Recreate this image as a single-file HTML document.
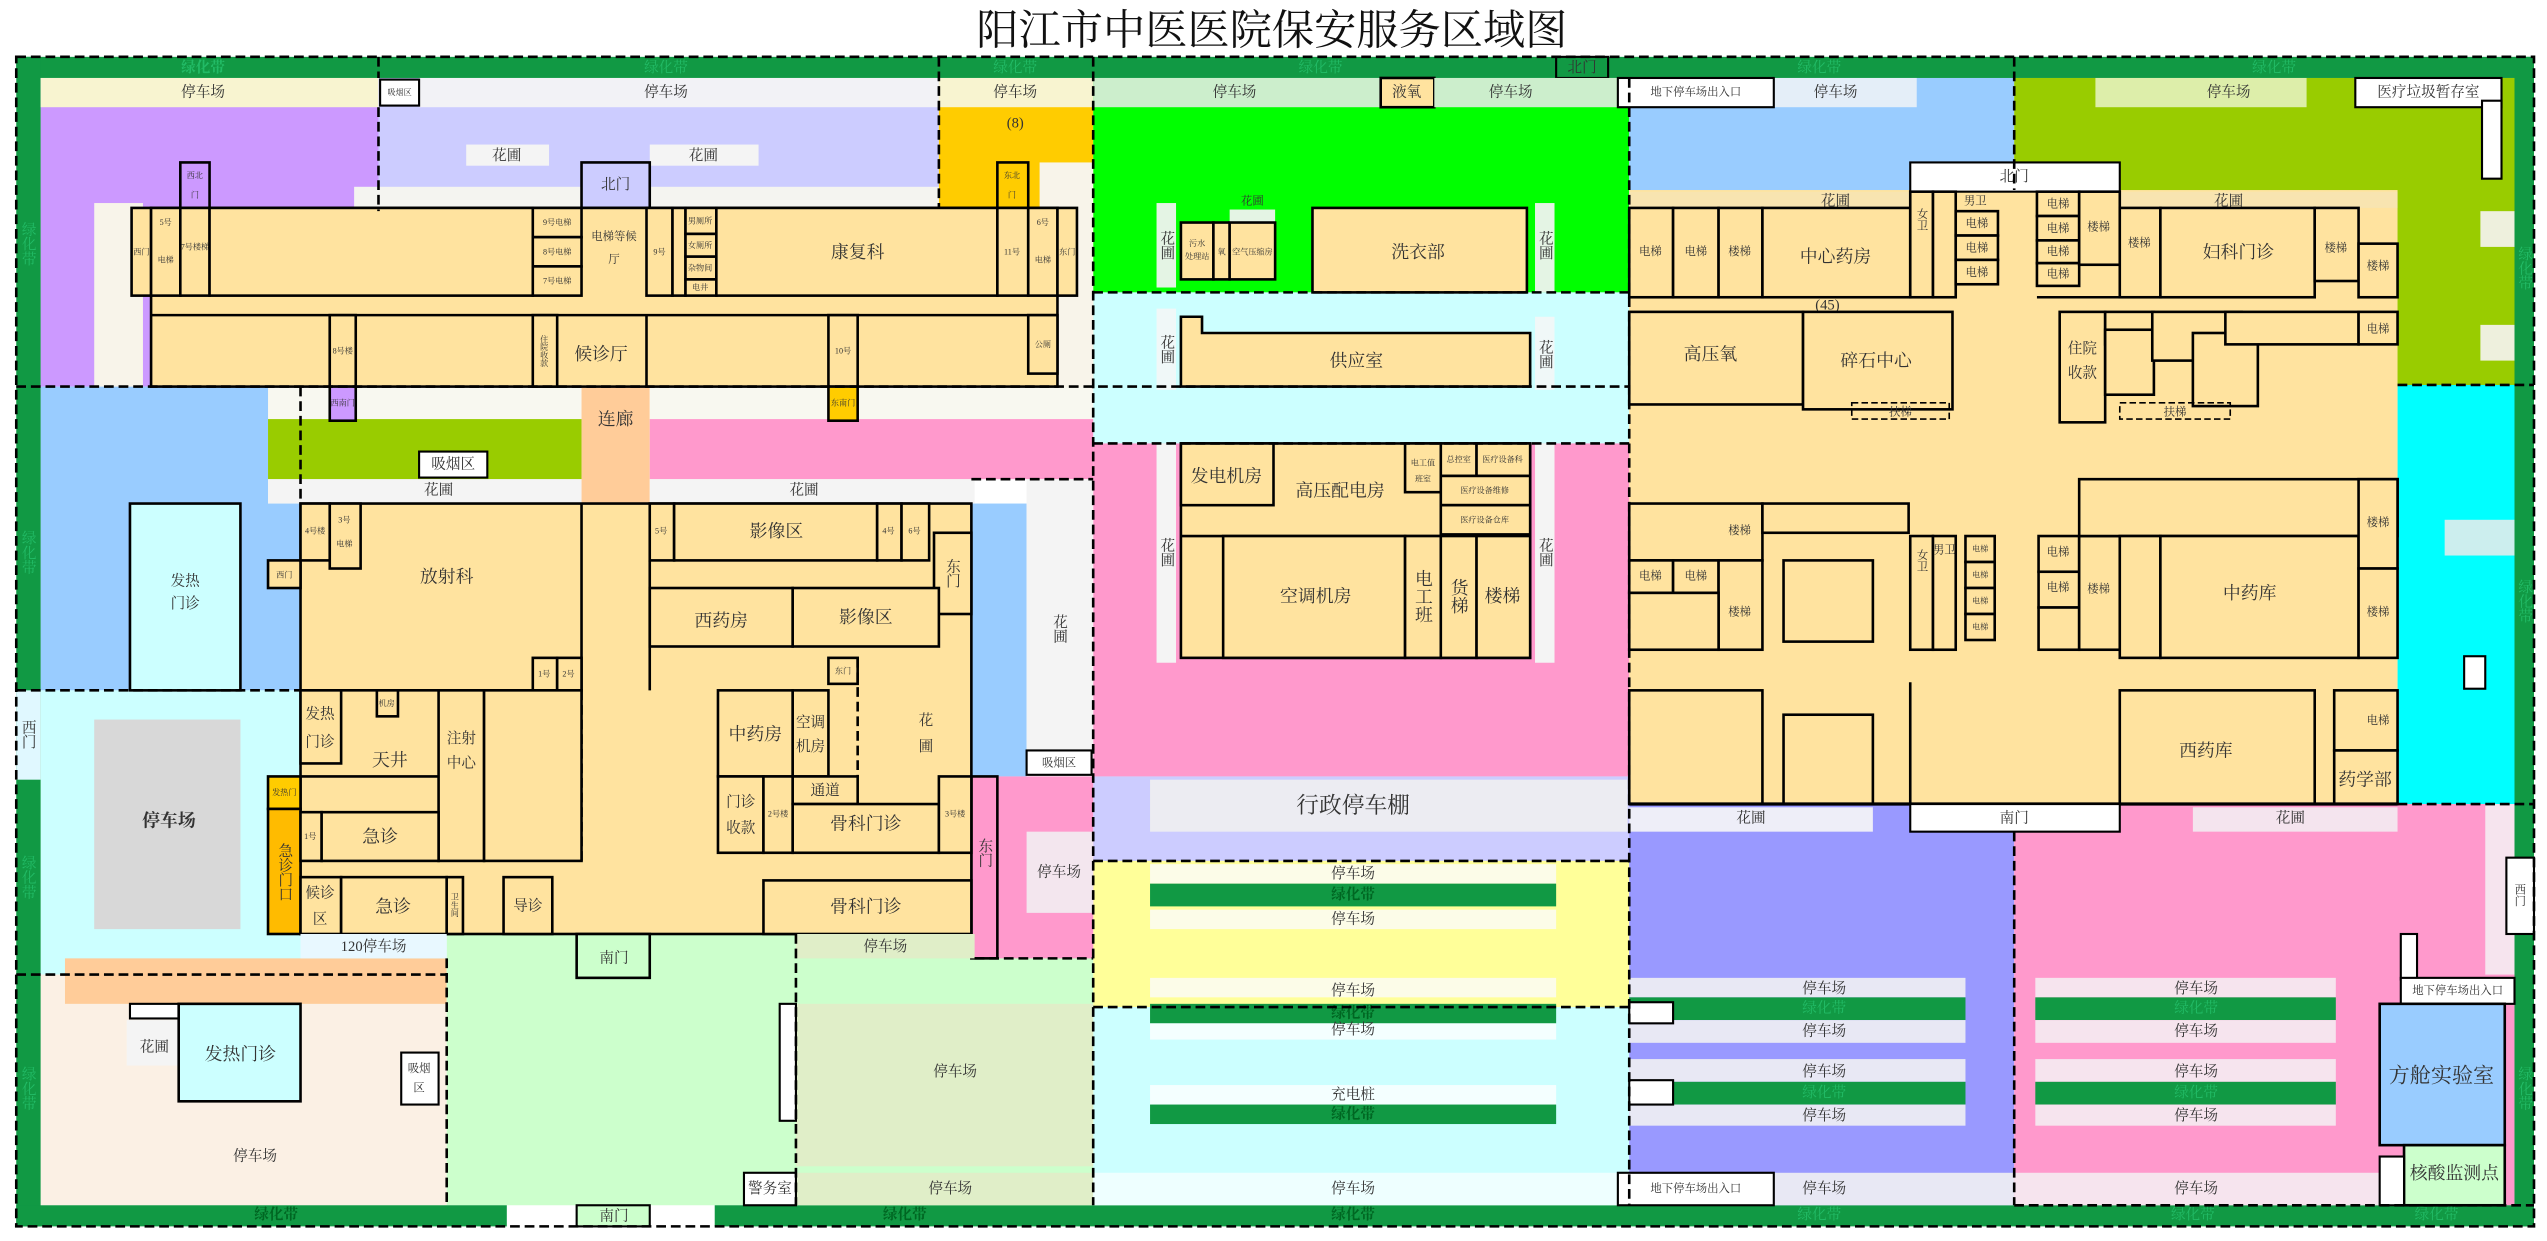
<!DOCTYPE html>
<html><head><meta charset="utf-8"><style>
html,body{margin:0;padding:0;background:#fff;}
svg{display:block;font-family:"Liberation Serif","Noto Serif CJK SC",serif;}
.b{fill:#FFE39F;stroke:#000;stroke-width:1.6}
.w{fill:#fff;stroke:#000;stroke-width:1.3}
.d{stroke:#000;stroke-width:1.6;stroke-dasharray:6 3;fill:none}
text{fill:#333;font-size:9px;text-anchor:middle;dominant-baseline:central}
.v{writing-mode:tb;}
.s{font-size:5px}
.m{font-size:7px}
.L{font-size:11px}
.g{fill:#0a0;font-weight:bold}
</style></head><body>
<svg width="2547" height="1241" viewBox="0 0 1568 764" xmlns="http://www.w3.org/2000/svg">
<rect x="0" y="0" width="1568" height="764" fill="#fff"/>
<text x="783" y="19" style="font-size:26px;fill:#111">阳江市中医医院保安服务区域图</text>

<!-- base region fills -->
<rect x="25" y="48" width="208" height="190" fill="#CC99FF"/>
<rect x="233" y="48" width="345" height="190" fill="#CCCCFF"/>
<rect x="578" y="48" width="95" height="190" fill="#FFCC00"/>
<rect x="673" y="48" width="330" height="132" fill="#00FF00"/>
<rect x="1003" y="48" width="237" height="80" fill="#99CCFF"/>
<rect x="1240" y="48" width="308" height="190" fill="#99CC00"/>
<rect x="1476" y="237" width="72" height="258" fill="#00FFFF"/>
<rect x="673" y="180" width="330" height="93" fill="#CCFFFF"/>
<rect x="673" y="273" width="330" height="205" fill="#FF99CC"/>
<rect x="673" y="478" width="330" height="52" fill="#CCCCFF"/>
<rect x="673" y="530" width="330" height="90" fill="#FFFF99"/>
<rect x="673" y="620" width="330" height="122" fill="#CCFFFF"/>
<rect x="1003" y="495" width="237" height="247" fill="#9999FF"/>
<rect x="1240" y="495" width="308" height="247" fill="#FF99CC"/>
<rect x="25" y="238" width="160" height="187" fill="#99CCFF"/>
<rect x="25" y="425" width="250" height="175" fill="#CCFFFF"/>
<rect x="25" y="600" width="250" height="142" fill="#FBF0E4"/>
<rect x="40" y="590" width="235" height="28" fill="#FFCC99"/>
<rect x="275" y="575" width="398" height="167" fill="#CCFFCC"/>
<rect x="165" y="238" width="193" height="72" fill="#F8F8F0"/>
<rect x="165" y="258" width="193" height="37" fill="#99CC00"/>
<rect x="358" y="238" width="42" height="72" fill="#FFCC99"/>
<rect x="400" y="238" width="273" height="20" fill="#F8F8F0"/>
<rect x="400" y="258" width="273" height="37" fill="#FF99CC"/>
<rect x="598" y="310" width="34" height="168" fill="#99CCFF"/>
<rect x="632" y="295" width="41" height="183" fill="#F4F4F4"/>
<rect x="598" y="478" width="75" height="112" fill="#FF99CC"/>
<rect x="632" y="512" width="41" height="50" fill="#F3E6EE"/>
<rect x="58" y="125" width="30" height="113" fill="#F8F4EA"/>
<rect x="218" y="115" width="360" height="14" fill="#F4F4F0"/>
<rect x="640" y="100" width="33" height="138" fill="#F8F4EA"/>

<!-- top green band & strips -->
<rect x="10" y="35" width="1550" height="13" fill="#119944"/>
<rect x="10" y="35" width="15" height="720" fill="#119944"/>
<rect x="1548" y="35" width="12" height="720" fill="#119944"/>
<rect x="10" y="742" width="302" height="13" fill="#119944"/>
<rect x="440" y="742" width="1120" height="13" fill="#119944"/>
<rect x="10" y="425" width="15" height="55" fill="#E0F8FF"/>
<text x="125" y="42" class="g" style="fill:#2b6">绿化带</text>
<text x="410" y="42" style="fill:#2b6">绿化带</text>
<text x="625" y="42" style="fill:#2b6">绿化带</text>
<text x="813" y="42" style="fill:#2b6">绿化带</text>
<text x="1120" y="42" style="fill:#2b6">绿化带</text>
<text x="1400" y="42" style="fill:#2b6">绿化带</text>
<text x="17" y="150" class="v" style="fill:#2b6">绿化带</text>
<text x="17" y="340" class="v" style="fill:#2b6">绿化带</text>
<text x="17" y="540" class="v" style="fill:#2b6">绿化带</text>
<text x="17" y="670" class="v" style="fill:#2b6">绿化带</text>
<text x="1554" y="165" class="v" style="fill:#2b6">绿化带</text>
<text x="1554" y="370" class="v" style="fill:#2b6">绿化带</text>
<text x="1554" y="670" class="v" style="fill:#2b6">绿化带</text>
<text x="170" y="748" style="fill:#062;font-weight:bold">绿化带</text>
<text x="557" y="748" style="fill:#062;font-weight:bold">绿化带</text>
<text x="833" y="748" style="fill:#062;font-weight:bold">绿化带</text>
<text x="1120" y="748" style="fill:#2b6">绿化带</text>
<text x="1350" y="748" style="fill:#2b6">绿化带</text>
<text x="1500" y="748" style="fill:#2b6">绿化带</text>
<text x="17" y="452" class="v">西门</text>
<rect x="958" y="35" width="32" height="13" class="w" style="fill:#119944"/><text x="974" y="42">北门</text>

<!-- top parking strip -->
<rect x="25" y="48" width="208" height="18" fill="#F8F4D0"/><text x="125" y="57">停车场</text>
<rect x="258" y="48" width="320" height="18" fill="#F2F2F6"/><text x="410" y="57">停车场</text>
<rect x="234" y="49" width="24" height="16" class="w"/><text x="246" y="57" class="s">吸烟区</text>
<rect x="578" y="48" width="95" height="18" fill="#F8F4D0"/><text x="625" y="57">停车场</text>
<text x="625" y="76">(8)</text>
<rect x="673" y="48" width="177" height="18" fill="#CCEECC"/><text x="760" y="57">停车场</text>
<rect x="850" y="48" width="33" height="18" class="b"/><text x="866" y="57">液氧</text>
<rect x="883" y="48" width="118" height="18" fill="#CCEECC"/><text x="930" y="57">停车场</text>
<rect x="1092" y="48" width="88" height="18" fill="#E4EEF8"/><text x="1130" y="57">停车场</text>
<rect x="996" y="48" width="96" height="18" class="w"/><text x="1044" y="57" class="m">地下停车场出入口</text>
<rect x="1290" y="48" width="130" height="18" fill="#DDEEAA"/><text x="1372" y="57">停车场</text>
<rect x="1450" y="48" width="90" height="18" class="w"/><text x="1495" y="57">医疗垃圾暂存室</text>
<rect x="1528" y="62" width="12" height="48" class="w"/>
<rect x="1527" y="130" width="21" height="22" fill="#EEF0DD"/>
<rect x="1527" y="200" width="21" height="22" fill="#EEF0DD"/>
<rect x="1505" y="320" width="43" height="22" fill="#CCEEEE"/>
<rect x="1517" y="404" width="13" height="20" class="w"/>

<!-- lavender area -->
<rect x="287" y="89" width="51" height="13" fill="#F4F4F4"/><text x="312" y="96">花圃</text>
<rect x="400" y="89" width="67" height="13" fill="#F4F4F4"/><text x="433" y="96">花圃</text>
<rect x="358" y="100" width="42" height="28" class="b" style="fill:#CCCCFF"/><text x="379" y="114">北门</text>
<rect x="111" y="100" width="18" height="29" class="b" style="fill:#CC99FF"/><text x="120" y="108" class="s">西北</text><text x="120" y="120" class="s">门</text>
<rect x="614" y="100" width="19" height="29" class="b" style="fill:#FFCC00"/><text x="623" y="108" class="s">东北</text><text x="623" y="120" class="s">门</text>

<!-- top-left building -->
<rect x="93" y="128" width="558" height="110" class="b"/>
<rect x="81" y="128" width="12" height="54" class="b"/><text x="87" y="155" class="s">西门</text>
<rect x="93" y="128" width="18" height="54" class="b"/><text x="102" y="137" class="s">5号</text><text x="102" y="160" class="s">电梯</text>
<rect x="111" y="128" width="18" height="54" class="b"/><text x="120" y="152" class="s">7号楼梯</text>
<rect x="129" y="128" width="199" height="54" class="b"/>
<rect x="328" y="128" width="30" height="18" class="b"/><text x="343" y="137" class="s">9号电梯</text>
<rect x="328" y="146" width="30" height="18" class="b"/><text x="343" y="155" class="s">8号电梯</text>
<rect x="328" y="164" width="30" height="18" class="b"/><text x="343" y="173" class="s">7号电梯</text>
<text x="378" y="146" class="m">电梯等候</text><text x="378" y="160" class="m">厅</text>
<rect x="398" y="128" width="16" height="54" class="b"/><text x="406" y="155" class="s">9号</text>
<rect x="414" y="128" width="8" height="54" class="b"/>
<rect x="422" y="128" width="19" height="16" class="b"/><text x="431" y="136" class="s">男厕所</text>
<rect x="422" y="144" width="19" height="14" class="b"/><text x="431" y="151" class="s">女厕所</text>
<rect x="422" y="158" width="19" height="14" class="b"/><text x="431" y="165" class="s">杂物间</text>
<rect x="422" y="172" width="19" height="10" class="b"/><text x="431" y="177" class="s">电井</text>
<rect x="441" y="128" width="173" height="54" class="b"/><text x="528" y="155" class="L">康复科</text>
<rect x="614" y="128" width="19" height="54" class="b"/><text x="623" y="155" class="s">11号</text>
<rect x="633" y="128" width="18" height="54" class="b"/><text x="642" y="137" class="s">6号</text><text x="642" y="160" class="s">电梯</text>
<rect x="651" y="128" width="12" height="54" class="b"/><text x="657" y="155" class="s">东门</text>
<line x1="93" y1="194" x2="651" y2="194" stroke="#000" stroke-width="1.6"/>
<line x1="203" y1="194" x2="203" y2="238" stroke="#000" stroke-width="1.6"/>
<rect x="203" y="194" width="16" height="44" class="b"/><text x="211" y="216" class="s">8号楼</text>
<rect x="328" y="194" width="15" height="44" class="b"/><text x="335" y="216" class="s v">住院收款</text>
<line x1="343" y1="194" x2="343" y2="238" stroke="#000"/>
<text x="370" y="218" class="L">候诊厅</text>
<line x1="398" y1="194" x2="398" y2="238" stroke="#000" stroke-width="1.6"/>
<rect x="510" y="194" width="18" height="44" class="b"/><text x="519" y="216" class="s">10号</text>
<rect x="633" y="194" width="18" height="36" class="b"/><text x="642" y="212" class="s">公厕</text>
<rect x="203" y="238" width="16" height="21" class="b" style="fill:#CC99FF"/><text x="211" y="248" class="s">西南门</text>
<rect x="510" y="238" width="18" height="21" class="b" style="fill:#FFCC00"/><text x="519" y="248" class="s">东南门</text>

<!-- middle left zones -->
<rect x="258" y="278" width="42" height="16" class="w"/><text x="279" y="286">吸烟区</text>
<text x="379" y="258" class="L">连廊</text>
<rect x="165" y="295" width="193" height="15" fill="#F4F4F4"/><text x="270" y="302">花圃</text>
<rect x="400" y="295" width="200" height="15" fill="#F4F4F4"/><text x="495" y="302">花圃</text>
<text x="652" y="387" class="v">花圃</text>
<rect x="632" y="462" width="40" height="15" class="w"/><text x="652" y="470" class="m">吸烟区</text>
<text x="652" y="537">停车场</text>
<rect x="598" y="478" width="16" height="112" class="b" style="fill:#FF99CC"/><text x="606" y="525" class="v">东门</text>
<rect x="80" y="310" width="68" height="115" class="b" style="fill:#CCFFFF"/><text x="114" y="358">发热</text><text x="114" y="372">门诊</text>
<rect x="58" y="443" width="90" height="129" fill="#D8D8D8"/><text x="104" y="505" class="L" style="font-weight:bold">停车场</text>

<!-- middle building -->
<rect x="185" y="310" width="413" height="265" class="b"/>
<rect x="165" y="345" width="20" height="17" class="b"/><text x="175" y="354" class="s">西门</text>
<rect x="185" y="310" width="18" height="35" class="b"/><text x="194" y="327" class="s">4号楼</text>
<rect x="203" y="310" width="19" height="40" class="b"/><text x="212" y="320" class="s">3号</text><text x="212" y="335" class="s">电梯</text>
<text x="275" y="355" class="L">放射科</text>
<line x1="358" y1="310" x2="358" y2="425" stroke="#000" stroke-width="1.6"/>
<line x1="185" y1="425" x2="345" y2="425" stroke="#000" stroke-width="1.6"/>
<rect x="328" y="405" width="15" height="20" class="b"/><text x="335" y="415" class="s">1号</text>
<rect x="343" y="405" width="15" height="20" class="b"/><text x="350" y="415" class="s">2号</text>
<rect x="400" y="310" width="15" height="35" class="b"/><text x="407" y="327" class="s">5号</text>
<rect x="415" y="310" width="125" height="35" class="b"/><text x="478" y="327" class="L">影像区</text>
<rect x="540" y="310" width="15" height="35" class="b"/><text x="547" y="327" class="s">4号</text>
<rect x="555" y="310" width="17" height="35" class="b"/><text x="563" y="327" class="s">6号</text>
<rect x="575" y="328" width="23" height="50" class="b"/><text x="586" y="353" class="v">东门</text>
<rect x="400" y="362" width="88" height="36" class="b"/><text x="444" y="382" class="L">西药房</text>
<rect x="488" y="362" width="90" height="36" class="b"/><text x="533" y="380" class="L">影像区</text>
<line x1="400" y1="345" x2="400" y2="425" stroke="#000" stroke-width="1.6"/>
<rect x="510" y="405" width="18" height="16" class="b"/><text x="519" y="413" class="s">东门</text>
<line x1="358" y1="425" x2="358" y2="530" class="d"/>
<rect x="185" y="425" width="25" height="45" class="b"/><text x="197" y="440">发热</text><text x="197" y="457">门诊</text>
<rect x="232" y="425" width="13" height="16" class="b"/><text x="238" y="433" class="s">机房</text>
<text x="240" y="468" class="L">天井</text>
<line x1="185" y1="478" x2="270" y2="478" stroke="#000" stroke-width="1.6"/>
<rect x="270" y="425" width="28" height="105" class="b"/><text x="284" y="455">注射</text><text x="284" y="470">中心</text>
<rect x="298" y="425" width="60" height="105" class="b"/>
<rect x="165" y="478" width="20" height="20" class="b" style="fill:#FFCC00"/><text x="175" y="488" class="s">发热门</text>
<rect x="165" y="498" width="20" height="77" class="b" style="fill:#FFBB00"/><text x="175" y="537" class="v">急诊门口</text>
<rect x="185" y="500" width="13" height="30" class="b"/><text x="191" y="515" class="s">1号</text>
<rect x="198" y="500" width="72" height="30" class="b"/><text x="234" y="515" class="L">急诊</text>
<rect x="185" y="540" width="25" height="35" class="b"/><text x="197" y="550">候诊</text><text x="197" y="566">区</text>
<rect x="210" y="540" width="65" height="35" class="b"/><text x="242" y="558" class="L">急诊</text>
<rect x="275" y="540" width="10" height="35" class="b"/><text x="280" y="557" class="s v">卫生间</text>
<rect x="310" y="540" width="30" height="35" class="b"/><text x="325" y="558">导诊</text>
<rect x="442" y="425" width="46" height="53" class="b"/><text x="465" y="452" class="L">中药房</text>
<rect x="488" y="425" width="22" height="53" class="b"/><text x="499" y="445">空调</text><text x="499" y="460">机房</text>
<text x="570" y="444">花</text><text x="570" y="460">圃</text>
<line x1="528" y1="405" x2="528" y2="478" class="d"/>
<rect x="442" y="478" width="28" height="47" class="b"/><text x="456" y="494">门诊</text><text x="456" y="510">收款</text>
<rect x="470" y="478" width="18" height="47" class="b"/><text x="479" y="501" class="s">2号楼</text>
<rect x="488" y="478" width="40" height="17" class="b"/><text x="508" y="487">通道</text>
<rect x="488" y="495" width="90" height="30" class="b"/><text x="533" y="507" class="L">骨科门诊</text>
<rect x="578" y="478" width="20" height="47" class="b"/><text x="588" y="501" class="s">3号楼</text>
<rect x="470" y="542" width="128" height="33" class="b"/><text x="533" y="558" class="L">骨科门诊</text>

<!-- bottom left -->
<rect x="185" y="575" width="90" height="15" fill="#E8F8FF"/><text x="230" y="583">120停车场</text>
<rect x="355" y="575" width="45" height="27" class="b" style="fill:#CCFFCC"/><text x="378" y="590">南门</text>
<rect x="490" y="575" width="110" height="15" fill="#E0EEC8"/><text x="545" y="583">停车场</text>
<rect x="490" y="618" width="183" height="100" fill="#E0EEC8"/><text x="588" y="660">停车场</text>
<rect x="480" y="618" width="10" height="72" class="w"/>
<rect x="490" y="722" width="183" height="20" fill="#E0EEC8"/><text x="585" y="732">停车场</text>
<rect x="458" y="722" width="32" height="20" class="w"/><text x="474" y="732">警务室</text>
<rect x="355" y="742" width="45" height="13" class="w" style="fill:#CCFFCC"/><text x="378" y="749">南门</text>
<rect x="80" y="618" width="30" height="9" class="w"/>
<rect x="78" y="628" width="32" height="28" fill="#F4F4F4"/><text x="95" y="645">花圃</text>
<rect x="110" y="618" width="75" height="60" class="b" style="fill:#CCFFFF"/><text x="148" y="649" class="L">发热门诊</text>
<rect x="247" y="648" width="23" height="32" class="w"/><text x="258" y="658" class="m">吸烟</text><text x="258" y="670" class="m">区</text>
<text x="157" y="712">停车场</text>

<!-- middle column right of left -->
<rect x="712" y="125" width="12" height="52" fill="#E4F4E4"/><text x="718" y="151" class="v">花圃</text>
<rect x="945" y="125" width="12" height="55" fill="#E4F4E4"/><text x="951" y="151" class="v">花圃</text>
<rect x="727" y="137" width="20" height="35" class="b"/><text x="737" y="150" class="s">污水</text><text x="737" y="158" class="s">处理站</text>
<rect x="747" y="137" width="10" height="35" class="b"/><text x="752" y="155" class="s">氧</text>
<rect x="757" y="129" width="28" height="8" fill="#E4F4E4"/><text x="771" y="124" class="m">花圃</text>
<rect x="757" y="137" width="28" height="35" class="b"/><text x="771" y="155" class="s">空气压缩房</text>
<rect x="808" y="128" width="132" height="52" class="b"/><text x="873" y="155" class="L">洗衣部</text>
<rect x="712" y="190" width="12" height="50" fill="#F0F8F8"/><text x="718" y="215" class="v">花圃</text>
<rect x="945" y="195" width="12" height="45" fill="#F0F8F8"/><text x="951" y="218" class="v">花圃</text>
<path d="M727 195 H740 V205 H942 V238 H727 Z" class="b"/><text x="835" y="222" class="L">供应室</text>
<rect x="712" y="273" width="12" height="135" fill="#F4F4F4"/><text x="718" y="340" class="v">花圃</text>
<rect x="945" y="273" width="12" height="135" fill="#F4F4F4"/><text x="951" y="340" class="v">花圃</text>
<rect x="727" y="273" width="215" height="132" class="b"/>
<rect x="727" y="273" width="57" height="38" class="b"/><text x="755" y="293" class="L">发电机房</text>
<text x="825" y="302" class="L">高压配电房</text>
<rect x="865" y="273" width="22" height="30" class="b"/><text x="876" y="285" class="s">电工值</text><text x="876" y="295" class="s">班室</text>
<rect x="887" y="273" width="22" height="20" class="b"/><text x="898" y="283" class="s">总控室</text>
<rect x="909" y="273" width="33" height="20" class="b"/><text x="925" y="283" class="s">医疗设备科</text>
<rect x="887" y="293" width="55" height="18" class="b"/><text x="914" y="302" class="s">医疗设备维修</text>
<rect x="887" y="311" width="55" height="18" class="b"/><text x="914" y="320" class="s">医疗设备仓库</text>
<line x1="727" y1="330" x2="942" y2="330" stroke="#000" stroke-width="1.6"/>
<rect x="753" y="330" width="112" height="75" class="b"/><text x="810" y="367" class="L">空调机房</text>
<rect x="865" y="330" width="22" height="75" class="b"/><text x="876" y="367" class="L v">电工班</text>
<rect x="887" y="330" width="22" height="75" class="b"/><text x="898" y="367" class="L v">货梯</text>
<rect x="909" y="330" width="33" height="75" class="b"/><text x="925" y="367" class="L">楼梯</text>
<rect x="708" y="480" width="294" height="32" fill="#ECECF2"/><text x="833" y="496" style="font-size:14px">行政停车棚</text>
<rect x="708" y="532" width="250" height="12" fill="#FCFCE8"/><text x="833" y="538">停车场</text>
<rect x="708" y="544" width="250" height="14" fill="#119944"/><text x="833" y="551" style="fill:#062;font-weight:bold">绿化带</text>
<rect x="708" y="560" width="250" height="12" fill="#FCFCE8"/><text x="833" y="566">停车场</text>
<rect x="708" y="602" width="250" height="12" fill="#FCFCE8"/><text x="833" y="610">停车场</text>
<rect x="708" y="618" width="250" height="12" fill="#119944"/><text x="833" y="624" style="fill:#062;font-weight:bold">绿化带</text>
<rect x="708" y="630" width="250" height="10" fill="#F4FFFF"/><text x="833" y="634">停车场</text>
<rect x="708" y="668" width="250" height="12" fill="#F4FFFF"/><text x="833" y="674">充电桩</text>
<rect x="708" y="680" width="250" height="12" fill="#119944"/><text x="833" y="686" style="fill:#062;font-weight:bold">绿化带</text>
<rect x="673" y="722" width="330" height="20" fill="#EEFFFF"/><text x="833" y="732">停车场</text>

<!-- right building -->
<rect x="1003" y="117" width="473" height="378" class="b" style="stroke:none"/>
<rect x="1003" y="118" width="173" height="10" fill="#F8E4B0"/><text x="1130" y="124">花圃</text>
<rect x="1305" y="118" width="171" height="10" fill="#F8E4B0"/><text x="1372" y="124">花圃</text>
<rect x="1176" y="100" width="129" height="18" class="w"/><text x="1240" y="109">北门</text>
<rect x="1003" y="128" width="27" height="55" class="b"/><text x="1016" y="155" class="m">电梯</text>
<rect x="1030" y="128" width="28" height="55" class="b"/><text x="1044" y="155" class="m">电梯</text>
<rect x="1058" y="128" width="27" height="55" class="b"/><text x="1071" y="155" class="m">楼梯</text>
<rect x="1085" y="128" width="91" height="55" class="b"/><text x="1130" y="158" class="L">中心药房</text>
<rect x="1176" y="118" width="14" height="65" class="b"/><text x="1183" y="135" class="m v">女卫</text>
<rect x="1190" y="118" width="14" height="65" class="b"/><text x="1216" y="124" class="m">男卫</text>
<rect x="1204" y="130" width="26" height="15" class="b"/><text x="1217" y="138" class="m">电梯</text>
<rect x="1204" y="145" width="26" height="15" class="b"/><text x="1217" y="153" class="m">电梯</text>
<rect x="1204" y="160" width="26" height="15" class="b"/><text x="1217" y="168" class="m">电梯</text>
<rect x="1254" y="118" width="26" height="15" class="b"/><text x="1267" y="126" class="m">电梯</text>
<rect x="1254" y="133" width="26" height="15" class="b"/><text x="1267" y="141" class="m">电梯</text>
<rect x="1254" y="148" width="26" height="14" class="b"/><text x="1267" y="155" class="m">电梯</text>
<rect x="1254" y="162" width="26" height="14" class="b"/><text x="1267" y="169" class="m">电梯</text>
<rect x="1280" y="118" width="25" height="45" class="b"/><text x="1292" y="140" class="m">楼梯</text>
<line x1="1254" y1="183" x2="1305" y2="183" stroke="#000" stroke-width="1.6"/>
<rect x="1305" y="128" width="25" height="55" class="b"/><text x="1317" y="150" class="m">楼梯</text>
<rect x="1330" y="128" width="95" height="55" class="b"/><text x="1378" y="155" class="L">妇科门诊</text>
<rect x="1425" y="128" width="27" height="45" class="b"/><text x="1438" y="153" class="m">楼梯</text>
<rect x="1452" y="150" width="24" height="33" class="b"/><text x="1464" y="164" class="m">楼梯</text>
<text x="1125" y="188">(45)</text>
<rect x="1003" y="192" width="107" height="57" class="b"/><text x="1053" y="218" class="L">高压氧</text>
<rect x="1110" y="192" width="92" height="60" class="b"/><text x="1155" y="222" class="L">碎石中心</text>
<rect x="1268" y="192" width="28" height="68" class="b"/><text x="1282" y="215">住院</text><text x="1282" y="230">收款</text>
<rect x="1296" y="192" width="30" height="20" class="b"/>
<rect x="1296" y="203" width="30" height="40" class="b"/>
<rect x="1325" y="192" width="55" height="30" class="b"/>
<rect x="1350" y="205" width="40" height="45" class="b"/>
<rect x="1370" y="192" width="82" height="20" class="b"/>
<rect x="1452" y="192" width="24" height="20" class="b"/><text x="1464" y="203" class="m">电梯</text>
<rect x="1140" y="248" width="60" height="10" fill="none" stroke="#000" stroke-dasharray="4 2"/><text x="1170" y="254" class="m">扶梯</text>
<rect x="1305" y="248" width="68" height="10" fill="none" stroke="#000" stroke-dasharray="4 2"/><text x="1339" y="254" class="m">扶梯</text>
<rect x="1003" y="310" width="82" height="35" class="b"/><text x="1071" y="327" class="m">楼梯</text>
<rect x="1003" y="345" width="27" height="20" class="b"/><text x="1016" y="355" class="m">电梯</text>
<rect x="1030" y="345" width="28" height="20" class="b"/><text x="1044" y="355" class="m">电梯</text>
<rect x="1058" y="345" width="27" height="55" class="b"/><text x="1071" y="377" class="m">楼梯</text>
<rect x="1003" y="365" width="55" height="35" class="b"/>
<rect x="1098" y="345" width="55" height="50" class="b"/>
<rect x="1085" y="310" width="90" height="18" class="b"/>
<rect x="1176" y="330" width="14" height="70" class="b"/><text x="1183" y="345" class="m v">女卫</text>
<rect x="1190" y="330" width="14" height="70" class="b"/><text x="1197" y="339" class="m">男卫</text>
<rect x="1210" y="330" width="18" height="16" class="b"/><text x="1219" y="338" class="s">电梯</text>
<rect x="1210" y="346" width="18" height="16" class="b"/><text x="1219" y="354" class="s">电梯</text>
<rect x="1210" y="362" width="18" height="16" class="b"/><text x="1219" y="370" class="s">电梯</text>
<rect x="1210" y="378" width="18" height="16" class="b"/><text x="1219" y="386" class="s">电梯</text>
<rect x="1255" y="330" width="25" height="22" class="b"/><text x="1267" y="340" class="m">电梯</text>
<rect x="1255" y="352" width="25" height="22" class="b"/><text x="1267" y="362" class="m">电梯</text>
<rect x="1255" y="374" width="25" height="26" class="b"/>
<rect x="1280" y="330" width="25" height="70" class="b"/><text x="1292" y="363" class="m">楼梯</text>
<rect x="1280" y="295" width="196" height="35" class="b"/>
<rect x="1305" y="330" width="25" height="75" class="b"/>
<rect x="1330" y="330" width="122" height="75" class="b"/><text x="1385" y="365" class="L">中药库</text>
<rect x="1452" y="295" width="24" height="55" class="b"/><text x="1464" y="322" class="m">楼梯</text>
<rect x="1452" y="350" width="24" height="55" class="b"/><text x="1464" y="377" class="m">楼梯</text>
<rect x="1003" y="425" width="82" height="70" class="b"/>
<rect x="1098" y="440" width="55" height="55" class="b"/>
<line x1="1176" y1="420" x2="1176" y2="495" stroke="#000" stroke-width="1.6"/>
<rect x="1305" y="425" width="120" height="70" class="b"/><text x="1358" y="462" class="L">西药库</text>
<rect x="1437" y="425" width="39" height="37" class="b"/><text x="1464" y="444" class="m">电梯</text>
<rect x="1437" y="462" width="39" height="33" class="b"/><text x="1456" y="480" class="L">药学部</text>
<line x1="1003" y1="495" x2="1476" y2="495" stroke="#000" stroke-width="2"/>
<rect x="1003" y="497" width="150" height="15" fill="#EEEEF8"/><text x="1078" y="504">花圃</text>
<rect x="1176" y="495" width="129" height="17" class="w"/><text x="1240" y="504">南门</text>
<rect x="1350" y="497" width="126" height="15" fill="#F4E4EE"/><text x="1410" y="504">花圃</text>

<!-- bottom right parking -->
<rect x="1003" y="602" width="207" height="12" fill="#E8E8F4"/><text x="1123" y="609">停车场</text>
<rect x="1003" y="614" width="207" height="14" fill="#119944"/><text x="1123" y="621" style="fill:#2b6">绿化带</text>
<rect x="1003" y="628" width="207" height="14" fill="#E8E8F4"/><text x="1123" y="635">停车场</text>
<rect x="1003" y="652" width="207" height="14" fill="#E8E8F4"/><text x="1123" y="660">停车场</text>
<rect x="1003" y="666" width="207" height="14" fill="#119944"/><text x="1123" y="673" style="fill:#2b6">绿化带</text>
<rect x="1003" y="680" width="207" height="13" fill="#E8E8F4"/><text x="1123" y="687">停车场</text>
<rect x="1003" y="617" width="27" height="13" class="w"/>
<rect x="1003" y="665" width="27" height="15" class="w"/>
<rect x="1253" y="602" width="185" height="12" fill="#F6E4EE"/><text x="1352" y="609">停车场</text>
<rect x="1253" y="614" width="185" height="14" fill="#119944"/><text x="1352" y="621" style="fill:#2b6">绿化带</text>
<rect x="1253" y="628" width="185" height="14" fill="#F6E4EE"/><text x="1352" y="635">停车场</text>
<rect x="1253" y="652" width="185" height="14" fill="#F6E4EE"/><text x="1352" y="660">停车场</text>
<rect x="1253" y="666" width="185" height="14" fill="#119944"/><text x="1352" y="673" style="fill:#2b6">绿化带</text>
<rect x="1253" y="680" width="185" height="13" fill="#F6E4EE"/><text x="1352" y="687">停车场</text>
<rect x="1003" y="722" width="237" height="20" fill="#E8E8F4"/><text x="1123" y="732">停车场</text>
<rect x="1240" y="722" width="225" height="20" fill="#F6E4EE"/><text x="1352" y="732">停车场</text>
<rect x="996" y="722" width="96" height="20" class="w"/><text x="1044" y="732" class="m">地下停车场出入口</text>
<rect x="1530" y="495" width="18" height="105" fill="#F6E4EE"/>
<rect x="1543" y="528" width="17" height="47" class="w"/><text x="1551" y="551" class="v m">西门</text>
<rect x="1478" y="575" width="10" height="28" class="w"/>
<rect x="1478" y="602" width="70" height="16" class="w"/><text x="1513" y="610" class="m">地下停车场出入口</text>
<rect x="1465" y="618" width="77" height="87" class="b" style="fill:#99CCFF"/><text x="1503" y="662" style="font-size:13px">方舱实验室</text>
<rect x="1480" y="705" width="62" height="37" class="b" style="fill:#CCFFCC"/><text x="1511" y="722" class="L">核酸监测点</text>
<rect x="1465" y="712" width="15" height="30" class="w"/>

<!-- dashed region borders -->
<rect x="10" y="35" width="1550" height="720" class="d"/>
<line x1="233" y1="35" x2="233" y2="48" class="d"/>
<line x1="578" y1="35" x2="578" y2="128" class="d"/>
<line x1="233" y1="66" x2="233" y2="130" class="d"/>
<line x1="673" y1="35" x2="673" y2="742" class="d"/>
<line x1="1003" y1="48" x2="1003" y2="742" class="d"/>
<line x1="1240" y1="35" x2="1240" y2="117" class="d"/>
<line x1="1240" y1="512" x2="1240" y2="742" class="d"/>
<line x1="10" y1="238" x2="1003" y2="238" class="d"/>
<line x1="1476" y1="237" x2="1560" y2="237" class="d"/>
<line x1="10" y1="425" x2="185" y2="425" class="d"/>
<line x1="10" y1="600" x2="275" y2="600" class="d"/>
<line x1="185" y1="238" x2="185" y2="310" class="d"/>
<line x1="673" y1="180" x2="1003" y2="180" class="d"/>
<line x1="673" y1="273" x2="1003" y2="273" class="d"/>
<line x1="673" y1="530" x2="1003" y2="530" class="d"/>
<line x1="673" y1="620" x2="1003" y2="620" class="d"/>
<line x1="275" y1="590" x2="275" y2="742" class="d"/>
<line x1="490" y1="575" x2="490" y2="742" class="d"/>
<line x1="598" y1="295" x2="673" y2="295" class="d"/>
<line x1="600" y1="590" x2="673" y2="590" class="d"/>
<line x1="1476" y1="495" x2="1560" y2="495" class="d"/>
<line x1="1240" y1="742" x2="1560" y2="742" class="d"/>
</svg>
</body></html>
